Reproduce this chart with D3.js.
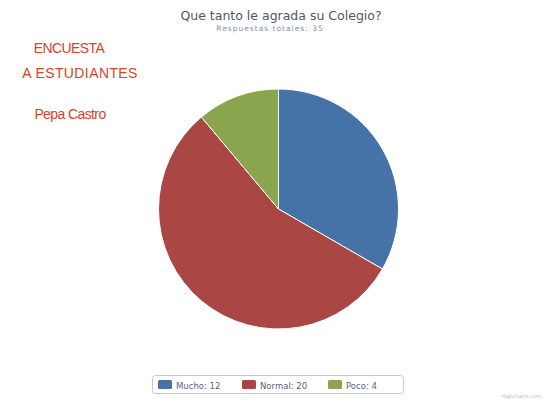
<!DOCTYPE html>
<html>
<head>
<meta charset="utf-8">
<script src="https://cdn.jsdelivr.net/npm/d3@7"></script>
<style>
  html, body { margin: 0; padding: 0; background: #fff; }
  svg { display: block; font-family: "DejaVu Sans", Verdana, sans-serif; }
</style>
</head>
<body>
<svg id="chart" width="546" height="402"></svg>
<script>
// Survey answers
const categories = ["Mucho", "Normal", "Poco"];
const values = [12, 20, 4];
const colors = ["#4572A7", "#AA4643", "#89A54E"];
const titleText = "Que tanto le agrada su Colegio?";
const subtitleText = "Respuestas totales: 35";
const sideLines = ["ENCUESTA", "A ESTUDIANTES", "Pepa Castro"];

const svg = d3.select("#chart");

// Title and subtitle
svg.append("text")
  .attr("x", 281).attr("y", 20)
  .attr("text-anchor", "middle")
  .attr("font-size", 12.5)
  .attr("fill", "#4e5863")
  .text(titleText);
svg.append("text")
  .attr("x", 270).attr("y", 31)
  .attr("text-anchor", "middle")
  .attr("font-size", 7.5)
  .attr("letter-spacing", 1.0)
  .attr("fill", "#7d93a8")
  .text(subtitleText);

// Side caption
const sideX = [69, 80, 70];
const sideY = [53, 78, 119];
const sideSpacing = [-0.6, 0.4, -0.6];
svg.selectAll("text.side")
  .data(sideLines)
  .join("text")
  .attr("class", "side")
  .attr("x", (d, i) => sideX[i])
  .attr("y", (d, i) => sideY[i])
  .attr("text-anchor", "middle")
  .attr("font-family", "'Liberation Sans', Arial, sans-serif")
  .attr("font-size", 14)
  .attr("letter-spacing", (d, i) => sideSpacing[i])
  .attr("fill", "#D9432A")
  .text(d => d);

// Pie
const cx = 278.5, cy = 209, r = 120;
const pie = d3.pie().sort(null).value(d => d)(values);
const arc = d3.arc().innerRadius(0).outerRadius(r);
const g = svg.append("g").attr("transform", `translate(${cx},${cy})`);
g.selectAll("path")
  .data(pie)
  .join("path")
  .attr("d", arc)
  .attr("fill", (d, i) => colors[i])
  .attr("stroke", "#fff")
  .attr("stroke-width", 1)
  .attr("stroke-linejoin", "round");

// Legend
const legend = svg.append("g");
legend.append("rect")
  .attr("x", 152.5).attr("y", 375.5)
  .attr("width", 251).attr("height", 18)
  .attr("rx", 3)
  .attr("fill", "#fff")
  .attr("stroke", "#c8c8c8");
const itemX = [158, 242, 328];
const items = legend.selectAll("g.item")
  .data(categories)
  .join("g")
  .attr("class", "item")
  .attr("transform", (d, i) => `translate(${itemX[i]},380)`);
items.append("rect")
  .attr("width", 14).attr("height", 9)
  .attr("rx", 1.5)
  .attr("fill", (d, i) => colors[i]);
items.append("text")
  .attr("x", 18).attr("y", 8.5)
  .attr("font-size", 8.5)
  .attr("fill", "#56657a")
  .text((d, i) => `${d}: ${values[i]}`);

// Credits
svg.append("text")
  .attr("x", 541).attr("y", 398)
  .attr("text-anchor", "end")
  .attr("font-size", 5)
  .attr("fill", "#b8b8b8")
  .text("Highcharts.com");
</script>
</body>
</html>
